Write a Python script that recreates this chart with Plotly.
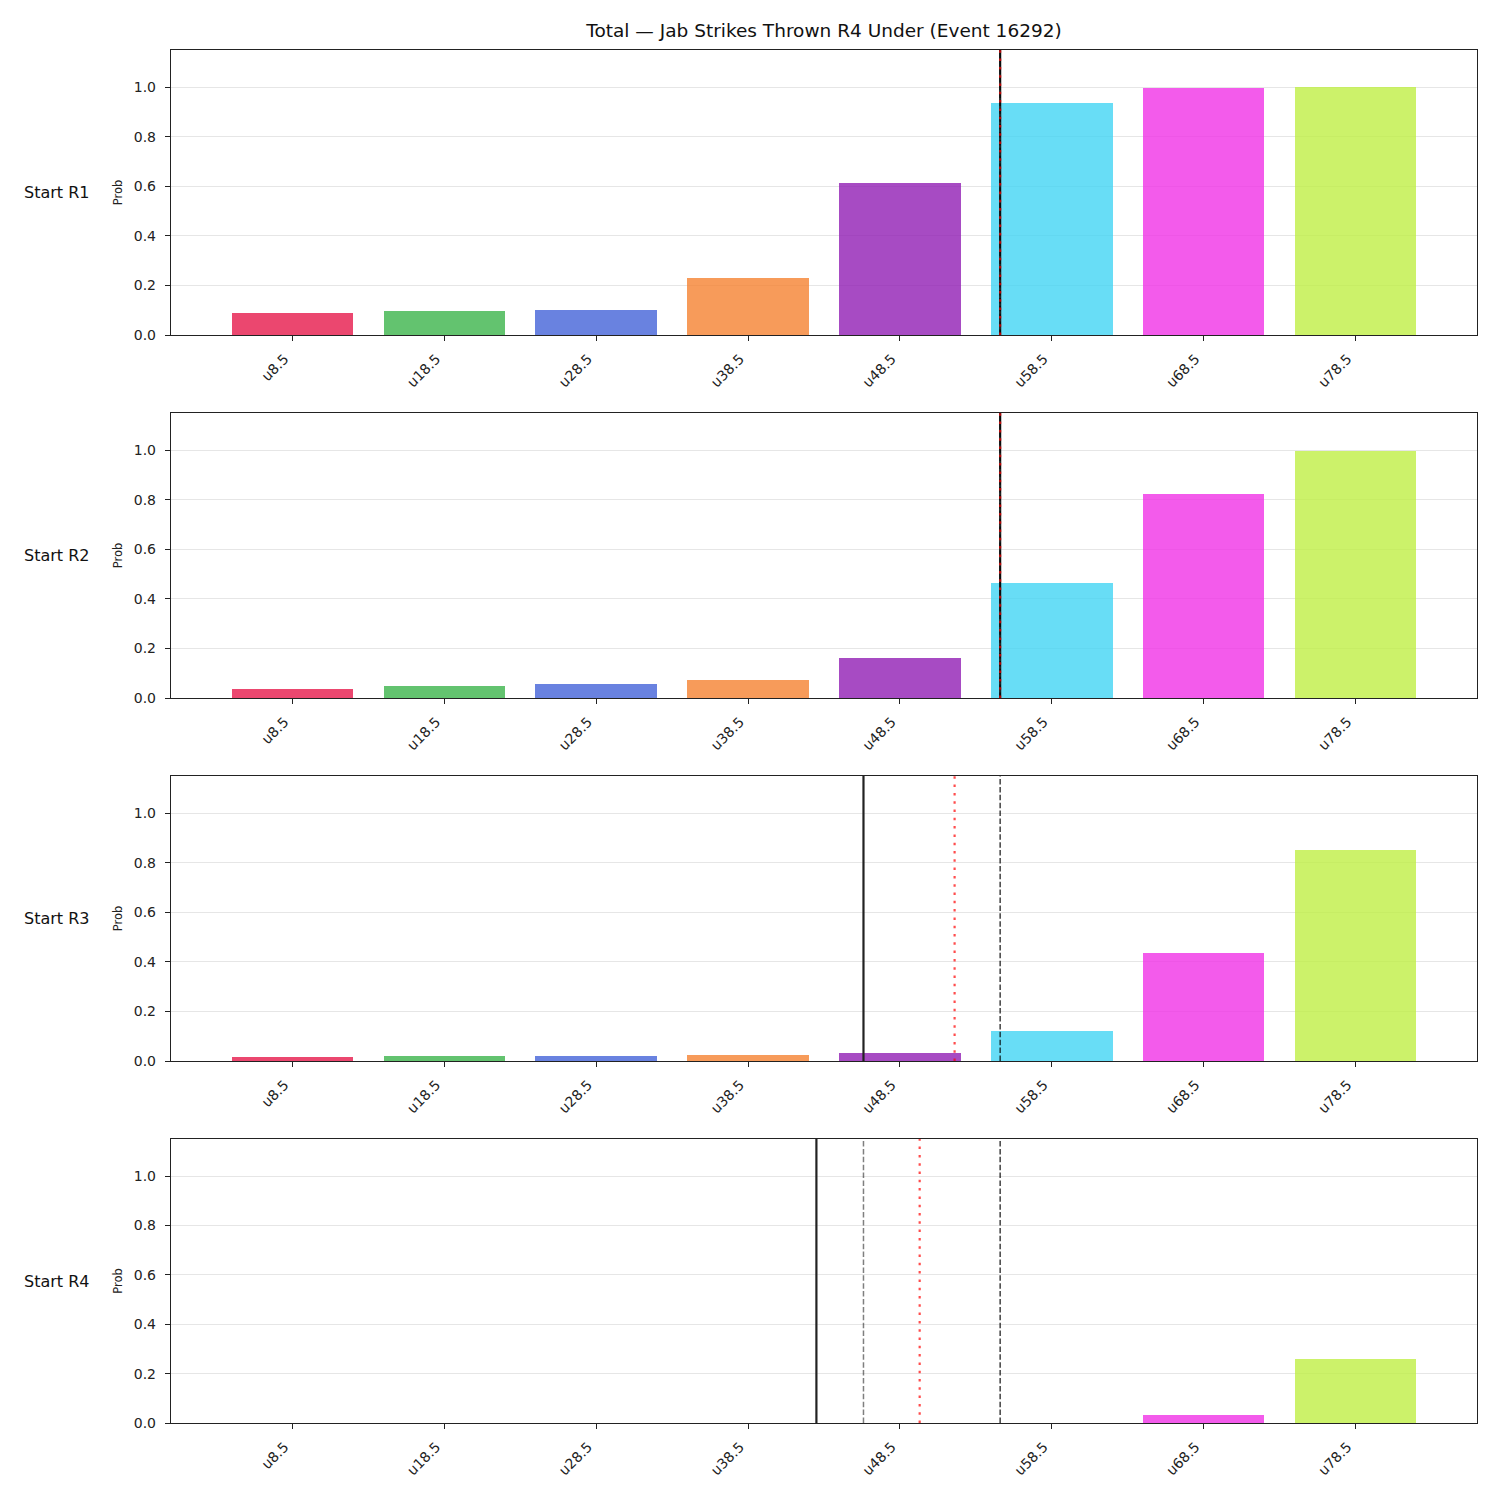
import plotly.graph_objects as go

title = "Total — Jab Strikes Thrown R4 Under (Event 16292)"
lines_x = [8.5, 18.5, 28.5, 38.5, 48.5, 58.5, 68.5, 78.5]
tick_labels = ["u8.5", "u18.5", "u28.5", "u38.5", "u48.5", "u58.5", "u68.5", "u78.5"]
rows = ["Start R1", "Start R2", "Start R3", "Start R4"]

prob_r1 = [0.089, 0.097, 0.101, 0.230, 0.613, 0.935, 0.998, 1.0]
prob_r2 = [0.036, 0.048, 0.056, 0.073, 0.161, 0.464, 0.823, 0.997]
prob_r3 = [0.016, 0.020, 0.020, 0.024, 0.032, 0.121, 0.435, 0.851]
prob_r4 = [0.0003, 0.0003, 0.0003, 0.0004, 0.0005, 0.002, 0.032, 0.258]
probs = [prob_r1, prob_r2, prob_r3, prob_r4]

# marker lines (in strike units)
current_line = [55.1, 55.1, 55.1, 55.1]          # black dashed
projection = [55.1, 55.1, 46.1, 43.0]            # black solid
expected = [55.1, 55.1, 52.1, 49.8]              # red dotted
previous = [None, None, None, 46.1]              # gray dashed

colors = ["rgba(230,25,75,0.8)", "rgba(60,180,75,0.8)", "rgba(67,99,216,0.8)",
          "rgba(245,130,49,0.8)", "rgba(145,30,180,0.8)", "rgba(66,212,244,0.8)",
          "rgba(240,50,230,0.8)", "rgba(191,239,69,0.8)"]

fig = go.Figure()
H = 1373.0
panel_h = 285.0
gap = 78.0
font = "DejaVu Sans"

for i, vals in enumerate(probs):
    n = i + 1
    top = min(1.0, 1.0 - i * (panel_h + gap) / H)
    bottom = max(0.0, top - panel_h / H)
    xa = "x" if n == 1 else f"x{n}"
    ya = "y" if n == 1 else f"y{n}"
    fig.add_trace(go.Bar(x=lines_x, y=vals, width=8, marker=dict(color=colors, line=dict(width=0)),
                         xaxis=xa, yaxis=ya, showlegend=False))
    common = dict(showline=True, linecolor="#222", linewidth=1.4, mirror=True,
                  ticks="outside", ticklen=5, tickwidth=1.4, tickcolor="#222",
                  tickfont=dict(family=font, size=14, color="#222"), zeroline=False)
    fig.update_layout(**{
        ("xaxis" if n == 1 else f"xaxis{n}"): dict(
            domain=[0, 1], anchor=ya, range=[0.5, 86.5], tickvals=lines_x,
            ticktext=tick_labels, tickangle=-45, showgrid=False,
            ticklabelshift=-8, ticklabelstandoff=4, **common),
        ("yaxis" if n == 1 else f"yaxis{n}"): dict(
            domain=[bottom, top], anchor=xa, range=[0, 1.15], tickvals=[0, 0.2, 0.4, 0.6, 0.8, 1.0],
            tickformat=".1f", showgrid=True, gridcolor="#e6e6e6", gridwidth=1,
            ticklabelstandoff=6,
            title=dict(text="Prob", font=dict(family=font, size=11.5, color="#222"), standoff=8),
            **common),
    })
    yd = f"{ya} domain"
    fig.add_shape(type="line", xref=xa, yref=yd, x0=projection[i], x1=projection[i], y0=0, y1=1,
                  line=dict(color="#222", width=2.2))
    if previous[i] is not None:
        fig.add_shape(type="line", xref=xa, yref=yd, x0=previous[i], x1=previous[i], y0=0, y1=1,
                      line=dict(color="rgba(0,0,0,0.5)", width=1.5, dash="5.5px,2.4px"))
    fig.add_shape(type="line", xref=xa, yref=yd, x0=current_line[i], x1=current_line[i], y0=0, y1=1,
                  line=dict(color="rgba(0,0,0,0.75)", width=1.5, dash="5.5px,2.4px"))
    fig.add_shape(type="line", xref=xa, yref=yd, x0=expected[i], x1=expected[i], y0=0, y1=1,
                  line=dict(color="rgba(255,0,0,0.7)", width=2.2, dash="2.5px,5.8px"))
    fig.add_annotation(text=rows[i], xref="paper", yref="paper", x=-0.061, y=(top + bottom) / 2,
                       xanchor="right", yanchor="middle", showarrow=False,
                       font=dict(family=font, size=16, color="#111"))

fig.update_layout(
    width=1500, height=1500,
    margin=dict(l=171, r=23, t=50, b=77),
    paper_bgcolor="white", plot_bgcolor="white",
    bargap=0,
    title=dict(text=title, x=(171 + 1477) / 2 / 1500, xanchor="center", y=1 - 31 / 1500, yanchor="middle",
               font=dict(family=font, size=18.5, color="#111")),
)

fig.write_html("out.html")
